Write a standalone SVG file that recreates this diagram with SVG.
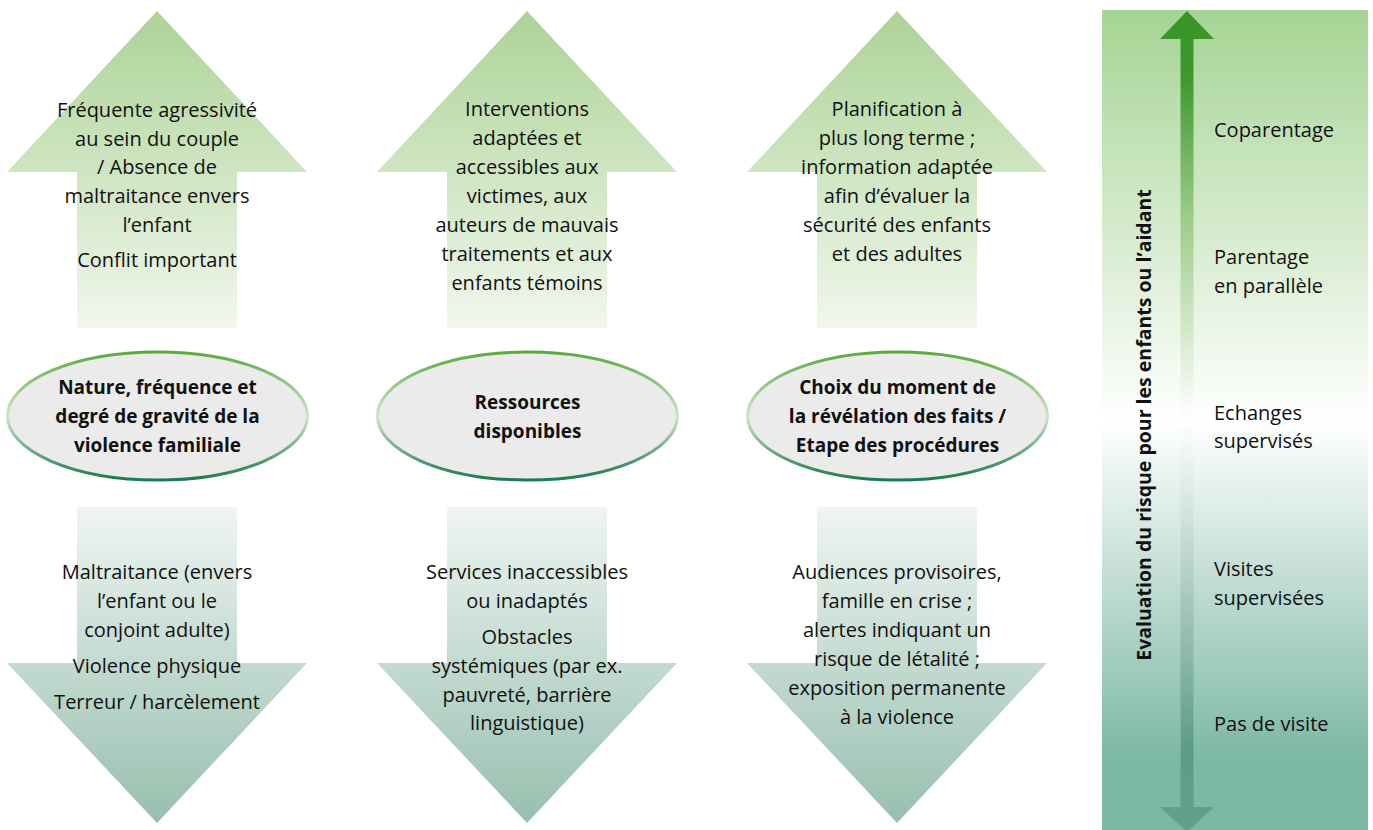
<svg xmlns="http://www.w3.org/2000/svg" width="1373" height="830" viewBox="0 0 1373 830">
<defs>
<linearGradient id="gUp" x1="0" y1="0" x2="0" y2="1">
<stop offset="0" stop-color="#acd396"/>
<stop offset="1" stop-color="#f1f7ed"/>
</linearGradient>
<linearGradient id="gDown" x1="0" y1="0" x2="0" y2="1">
<stop offset="0" stop-color="#eff5f2"/>
<stop offset="1" stop-color="#96bfae"/>
</linearGradient>
<linearGradient id="gEllStroke" x1="0" y1="0" x2="0" y2="1">
<stop offset="0" stop-color="#5aaa3a"/>
<stop offset="0.5" stop-color="#cfe5cc"/>
<stop offset="1" stop-color="#1d7a4c"/>
</linearGradient>
<linearGradient id="gPanel" x1="0" y1="0" x2="0" y2="1">
<stop offset="0" stop-color="#a5d494"/>
<stop offset="0.5" stop-color="#ffffff"/>
<stop offset="0.915" stop-color="#7db7a6"/>
<stop offset="1" stop-color="#7db7a6"/>
</linearGradient>
<linearGradient id="gScale" x1="0" y1="11" x2="0" y2="830" gradientUnits="userSpaceOnUse">
<stop offset="0" stop-color="#389526"/>
<stop offset="0.08" stop-color="#3f972f"/>
<stop offset="0.25" stop-color="#9ccb88"/>
<stop offset="0.5" stop-color="#ffffff"/>
<stop offset="0.9" stop-color="#5e9c86"/>
<stop offset="1" stop-color="#62a08a"/>
</linearGradient>
<style>
.t{font-family:"Open Sans","DejaVu Sans",sans-serif;font-size:20px;fill:#111;text-anchor:middle}
.b{font-family:"Open Sans","DejaVu Sans",sans-serif;font-size:19px;font-weight:bold;fill:#111;text-anchor:middle}
.v{font-family:"Open Sans","DejaVu Sans",sans-serif;font-size:19.5px;font-weight:bold;fill:#111;text-anchor:middle}
.r{font-family:"Open Sans","DejaVu Sans",sans-serif;font-size:20px;fill:#111}
.ell{fill:#ebebeb;stroke:url(#gEllStroke);stroke-width:3}
.up{fill:url(#gUp)}
.down{fill:url(#gDown)}
</style>
</defs>

<g id="col1-up">
<polygon class="up" points="157,11 307,172 237,172 237,328 77,328 77,172 7,172"/>
<text class="t" x="157" y="117">Fréquente agressivité</text>
<text class="t" x="157" y="146">au sein du couple</text>
<text class="t" x="157" y="174">/ Absence de</text>
<text class="t" x="157" y="203">maltraitance envers</text>
<text class="t" x="157" y="232">l’enfant</text>
<text class="t" x="157" y="267">Conflit important</text>
</g>
<g id="col1-ellipse">
<ellipse class="ell" cx="157.5" cy="416" rx="150" ry="64"/>
<text class="b" x="157.5" y="394">Nature, fréquence et</text>
<text class="b" x="157.5" y="423">degré de gravité de la</text>
<text class="b" x="157.5" y="452">violence familiale</text>
</g>
<g id="col1-down">
<polygon class="down" points="77,507 237,507 237,663 307,663 157,823 7,663 77,663"/>
<text class="t" x="157" y="579">Maltraitance (envers</text>
<text class="t" x="157" y="608">l’enfant ou le</text>
<text class="t" x="157" y="637">conjoint adulte)</text>
<text class="t" x="157" y="673">Violence physique</text>
<text class="t" x="157" y="709">Terreur / harcèlement</text>
</g>

<g id="col2-up">
<polygon class="up" points="527,11 677,172 607,172 607,328 447,328 447,172 377,172"/>
<text class="t" x="527" y="116">Interventions</text>
<text class="t" x="527" y="145">adaptées et</text>
<text class="t" x="527" y="174">accessibles aux</text>
<text class="t" x="527" y="203">victimes, aux</text>
<text class="t" x="527" y="232">auteurs de mauvais</text>
<text class="t" x="527" y="261">traitements et aux</text>
<text class="t" x="527" y="290">enfants témoins</text>
</g>
<g id="col2-ellipse">
<ellipse class="ell" cx="527.5" cy="416" rx="150" ry="64"/>
<text class="b" x="527.5" y="409">Ressources</text>
<text class="b" x="527.5" y="438">disponibles</text>
</g>
<g id="col2-down">
<polygon class="down" points="447,507 607,507 607,663 677,663 527,823 377,663 447,663"/>
<text class="t" x="527" y="579">Services inaccessibles</text>
<text class="t" x="527" y="608">ou inadaptés</text>
<text class="t" x="527" y="644">Obstacles</text>
<text class="t" x="527" y="673">systémiques (par ex.</text>
<text class="t" x="527" y="702">pauvreté, barrière</text>
<text class="t" x="527" y="730">linguistique)</text>
</g>

<g id="col3-up">
<polygon class="up" points="897,11 1047,172 977,172 977,328 817,328 817,172 747,172"/>
<text class="t" x="897" y="116">Planification à</text>
<text class="t" x="897" y="145">plus long terme ;</text>
<text class="t" x="897" y="174">information adaptée</text>
<text class="t" x="897" y="203">afin d’évaluer la</text>
<text class="t" x="897" y="232">sécurité des enfants</text>
<text class="t" x="897" y="261">et des adultes</text>
</g>
<g id="col3-ellipse">
<ellipse class="ell" cx="897.5" cy="416" rx="150" ry="64"/>
<text class="b" x="897.5" y="394">Choix du moment de</text>
<text class="b" x="897.5" y="423">la révélation des faits /</text>
<text class="b" x="897.5" y="452">Etape des procédures</text>
</g>
<g id="col3-down">
<polygon class="down" points="817,507 977,507 977,663 1047,663 897,823 747,663 817,663"/>
<text class="t" x="897" y="579">Audiences provisoires,</text>
<text class="t" x="897" y="608">famille en crise ;</text>
<text class="t" x="897" y="637">alertes indiquant un</text>
<text class="t" x="897" y="666">risque de létalité ;</text>
<text class="t" x="897" y="695">exposition permanente</text>
<text class="t" x="897" y="724">à la violence</text>
</g>

<g id="risk-panel">
<rect x="1102" y="10" width="266" height="820" fill="url(#gPanel)"/>
<text class="v" transform="translate(1151,425) rotate(-90)" x="0" y="0">Evaluation du risque pour les enfants ou l’aidant</text>
<text class="r" x="1214" y="137">Coparentage</text>
<text class="r" x="1214" y="264">Parentage</text>
<text class="r" x="1214" y="293">en parallèle</text>
<text class="r" x="1214" y="420">Echanges</text>
<text class="r" x="1214" y="448">supervisés</text>
<text class="r" x="1214" y="576">Visites</text>
<text class="r" x="1214" y="605">supervisées</text>
<text class="r" x="1214" y="731">Pas de visite</text>
</g>
<g id="connectors">
<polygon points="1187,11 1214,39 1193.5,39 1193.5,807 1214,807 1187,832 1160,807 1180.5,807 1180.5,39 1160,39" fill="url(#gScale)"/>
</g>
</svg>
